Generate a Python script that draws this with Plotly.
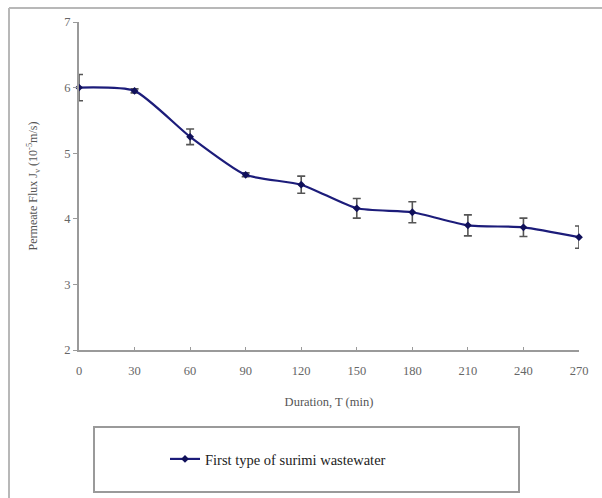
import plotly.graph_objects as go

# Permeate flux over filtration time
duration_min = [0, 30, 60, 90, 120, 150, 180, 210, 240, 270]
flux = [6.0, 5.95, 5.25, 4.67, 4.52, 4.16, 4.10, 3.90, 3.87, 3.72]
flux_err = [0.2, 0.03, 0.12, 0.03, 0.13, 0.15, 0.16, 0.16, 0.14, 0.17]
x_ticks = [0, 30, 60, 90, 120, 150, 180, 210, 240, 270]
y_ticks = [2, 3, 4, 5, 6, 7]

W, H = 602, 498
L, R, T, B = 79, 23, 22, 148
pw, ph = W - L - R, H - T - B


def px(x):
    return (x - L) / pw


def py(y):
    return (H - B - y) / ph


SERIF = "Liberation Serif, Times New Roman, serif"
NAVY = "#1c1c7a"

fig = go.Figure()
fig.add_trace(go.Scatter(
    x=duration_min, y=flux,
    mode="lines+markers",
    name="First type of surimi wastewater",
    line=dict(color=NAVY, width=2.2, shape="spline", smoothing=0.6),
    marker=dict(symbol="diamond", size=6, color="#10105a"),
    error_y=dict(type="data", array=flux_err, visible=True,
                 color="#555555", thickness=1.6, width=4),
    cliponaxis=False,
))

frame = "#b8b8b8"
shapes = [
    # chart frame (top and left edges)
    dict(type="line", xref="paper", yref="paper", x0=px(9), x1=px(W + 5), y0=py(8), y1=py(8),
         line=dict(color=frame, width=2)),
    dict(type="line", xref="paper", yref="paper", x0=px(9), x1=px(9), y0=py(8), y1=py(H + 5),
         line=dict(color=frame, width=2)),
    # legend box
    dict(type="rect", xref="paper", yref="paper", x0=px(94), x1=px(519), y0=py(427), y1=py(492),
         line=dict(color="#9a9a9a", width=2), fillcolor="rgba(0,0,0,0)"),
]

fig.update_layout(
    width=W, height=H,
    margin=dict(l=L, r=R, t=T, b=B),
    paper_bgcolor="white", plot_bgcolor="white",
    font=dict(family=SERIF, color="#555555", size=12),
    showlegend=True,
    legend=dict(x=px(165), y=py(459), xanchor="left", yanchor="middle",
                bgcolor="rgba(0,0,0,0)", borderwidth=0,
                font=dict(family=SERIF, size=14.5, color="#222222")),
    shapes=shapes,
    xaxis=dict(
        range=[0, 270], tickvals=x_ticks, ticktext=[str(v) for v in x_ticks],
        showgrid=False, zeroline=False, showline=True, linecolor="#9a9a9a", linewidth=1.5,
        ticks="inside", ticklen=3, tickcolor="#9a9a9a",
        ticklabelstandoff=8,
        tickfont=dict(family=SERIF, size=12.5, color="#666666"),
        title=dict(text="Duration, T (min)", standoff=20,
                   font=dict(family=SERIF, size=12.5, color="#555555")),
    ),
    yaxis=dict(
        range=[2, 7], tickvals=y_ticks,
        showgrid=False, zeroline=False, showline=True, linecolor="#9a9a9a", linewidth=2,
        ticks="outside", ticklen=4, tickcolor="#9a9a9a",
        tickfont=dict(family=SERIF, size=12.5, color="#666666"),
        title=dict(text="Permeate Flux J<sub>v</sub> (10<sup>-5</sup>m/s)", standoff=24,
                   font=dict(family=SERIF, size=12, color="#555555")),
    ),
)

fig.write_html("out.html")
